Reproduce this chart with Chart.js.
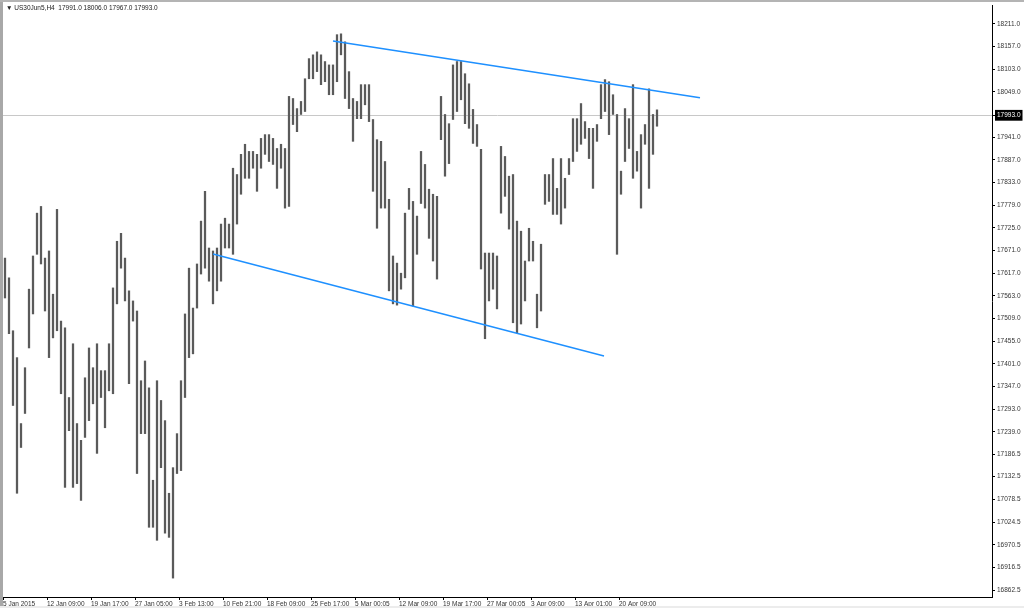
<!DOCTYPE html>
<html>
<head>
<meta charset="utf-8">
<title>US30Jun5,H4</title>
<script src="https://cdn.jsdelivr.net/npm/chart.js@4.4.1/dist/chart.umd.min.js"></script>
<style>
  html, body { margin: 0; padding: 0; background: #fff; }
  #wrap { position: relative; width: 1024px; height: 608px; overflow: hidden; }
  #edgeLeft { position: absolute; left: 0; top: 0; width: 3px; height: 608px; background: #a8a8a8; }
  #edgeTop { position: absolute; left: 0; top: 0; width: 1024px; height: 2px; background: #b4b4b4; }
  #edgeBottom { position: absolute; left: 0; top: 606px; width: 1024px; height: 2px; background: #ececec; }
  #header { position: absolute; left: 6px; top: 4px; font: 6.5px "Liberation Sans", Arial, sans-serif; color: #222; white-space: pre; }
</style>
</head>
<body>
<div id="wrap">
  <canvas id="priceChart"></canvas>
  <div id="edgeLeft"></div>
  <div id="edgeTop"></div>
  <div id="edgeBottom"></div>
  <div id="header">▼ US30Jun5,H4  17991.0 18006.0 17967.0 17993.0</div>
</div>
<script>
// H4 bars (high / low per bar)
const highs = [
  17653, 17606, 17480, 17416, 17259, 17392, 17579, 17658, 17760, 17776,
  17653, 17670, 17567, 17769, 17503, 17487, 17321, 17449, 17259, 17219,
  17368, 17439, 17392, 17449, 17385, 17385, 17449, 17582, 17693, 17712,
  17653, 17575, 17551, 17527, 17361, 17408, 17344, 17124, 17361, 17314,
  17266, 17093, 17154, 17235, 17361, 17520, 17629, 17534, 17639, 17741,
  17812, 17677, 17670, 17677, 17734, 17748, 17734, 17867, 17852, 17900,
  17924, 17907, 17907, 17900, 17938, 17947, 17947, 17938, 17914, 17924,
  17914, 18038, 18033, 18009, 18026, 18080, 18128, 18137, 18144, 18137,
  18121, 18113, 18113, 18185, 18187, 18168, 18097, 18033, 18026, 18066,
  18066, 18066, 17983, 17935, 17931, 17883, 17793, 17658, 17641, 17617,
  17760, 17819, 17788, 17753, 17907, 17876, 17817, 17805, 17800, 18038,
  17995, 17973, 18113, 18121, 18121, 18092, 18068, 18007, 17971, 17912,
  17665, 17665, 17665, 17658, 17919, 17895, 17848, 17852, 17741, 17717,
  17646, 17724, 17693, 17567, 17686, 17852, 17852, 17890, 17819, 17890,
  17843, 17890, 17985, 17985, 18021, 17978, 17962, 17962, 17971, 18066,
  18078, 18073, 18042, 17995, 17860, 18009, 17985, 18066, 17907, 17947,
  17971, 18056, 17995, 18006
];
const lows = [
  17558, 17473, 17302, 17093, 17202, 17283, 17439, 17520, 17662, 17639,
  17527, 17416, 17463, 17480, 17330, 17107, 17242, 17107, 17116, 17076,
  17226, 17266, 17306, 17188, 17321, 17249, 17337, 17330, 17544, 17629,
  17551, 17354, 17503, 17140, 17235, 17235, 17012, 17012, 16981, 17154,
  16998, 16988, 16891, 17140, 17147, 17321, 17416, 17425, 17534, 17615,
  17629, 17598, 17544, 17575, 17598, 17677, 17677, 17662, 17734, 17805,
  17843, 17843, 17867, 17812, 17867, 17900, 17883, 17876, 17819, 17867,
  17772, 17776, 17971, 17954, 17995, 18002, 18080, 18080, 18097, 18066,
  18073, 18042, 18042, 18073, 18137, 18033, 18009, 17931, 17985, 17985,
  18018, 17978, 17812, 17724, 17772, 17772, 17575, 17544, 17541, 17579,
  17606, 17769, 17539, 17662, 17783, 17772, 17700, 17646, 17603, 17935,
  17848, 17878, 17983, 18002, 18030, 17973, 17962, 17926, 17919, 17627,
  17461, 17551, 17579, 17532, 17760, 17800, 17722, 17499, 17475, 17496,
  17551, 17646, 17646, 17487, 17527, 17781, 17788, 17757, 17757, 17734,
  17772, 17852, 17883, 17907, 17924, 17938, 17890, 17819, 17931, 17985,
  18002, 17947, 17995, 17662, 17805, 17883, 17914, 17843, 17860, 17772,
  17924, 17819, 17900, 17967
];

const timeLabels = [
  '5 Jan 2015', '12 Jan 09:00', '19 Jan 17:00', '27 Jan 05:00', '3 Feb 13:00',
  '10 Feb 21:00', '18 Feb 09:00', '25 Feb 17:00', '5 Mar 00:05', '12 Mar 09:00',
  '19 Mar 17:00', '27 Mar 00:05', '3 Apr 09:00', '13 Apr 01:00', '20 Apr 09:00'
];
const barsPerLabel = 11;

const priceTicks = [
  18211, 18157, 18103, 18049, 17993, 17941, 17887, 17833, 17779, 17725,
  17671, 17617, 17563, 17509, 17455, 17401, 17347, 17293, 17239, 17186.5,
  17132.5, 17078.5, 17024.5, 16970.5, 16916.5, 16862.5
];
const currentPrice = 17993;

// trend lines: [bar index, price]
const upperTrend = [[82, 18170], [173.75, 18035]];
const lowerTrend = [[52, 17662.5], [149.75, 17420]];

const tickFont = { family: '"Liberation Sans", Arial, sans-serif', size: 6.5 };

const ctx = document.getElementById('priceChart').getContext('2d');
const priceChart = new Chart(ctx, {
    type: 'bar',
    data: {
        datasets: [
            {
                type: 'line',
                data: upperTrend.map(p => ({ x: p[0], y: p[1] })),
                borderColor: '#1e90ff',
                borderWidth: 1.5,
                pointRadius: 0,
                order: 1
            },
            {
                type: 'line',
                data: lowerTrend.map(p => ({ x: p[0], y: p[1] })),
                borderColor: '#1e90ff',
                borderWidth: 1.5,
                pointRadius: 0,
                order: 1
            },
            {
                data: highs.map((h, i) => ({ x: i, y: [lows[i], h] })),
                backgroundColor: '#5a5a5a',
                barThickness: 1.6,
                grouped: false,
                order: 2
            }
        ]
    },
    options: {
        animation: false,
        responsive: true,
        maintainAspectRatio: false,
        layout: { padding: { left: 3, top: 4, right: 0, bottom: 0 } },
        plugins: {
            legend: { display: false },
            tooltip: { enabled: false }
        },
        scales: {
            x: {
                type: 'linear',
                position: 'bottom',
                offset: false,
                min: -0.5,
                max: 246.75,
                afterBuildTicks: s => { s.ticks = timeLabels.map((t, k) => ({ value: k * barsPerLabel - 0.5 })); },
                afterFit: s => { s.height = 11; },
                ticks: {
                    callback: (v, i) => timeLabels[i],
                    align: 'start',
                    autoSkip: false,
                    maxRotation: 0,
                    padding: 0,
                    color: '#333',
                    font: tickFont
                },
                grid: { offset: false, drawOnChartArea: false, tickLength: 3, color: '#000' },
                border: { color: '#000' }
            },
            y: {
                type: 'linear',
                position: 'right',
                min: 16846,
                max: 18253.5,
                afterBuildTicks: s => { s.ticks = priceTicks.map(v => ({ value: v })); },
                afterFit: s => { s.width = 32; },
                ticks: {
                    callback: v => v.toFixed(1),
                    autoSkip: false,
                    padding: 2,
                    font: tickFont,
                    color: c => (c.tick && c.tick.value === currentPrice ? '#fff' : '#333'),
                    showLabelBackdrop: c => !!(c.tick && c.tick.value === currentPrice),
                    backdropColor: '#000',
                    backdropPadding: { x: 2, y: 1.5 }
                },
                grid: {
                    tickLength: 3,
                    tickColor: '#000',
                    color: c => (c.tick && c.tick.value === currentPrice ? '#c8c8c8' : 'rgba(0,0,0,0)')
                },
                border: { color: '#000' }
            }
        }
    }
});
</script>
</body>
</html>
